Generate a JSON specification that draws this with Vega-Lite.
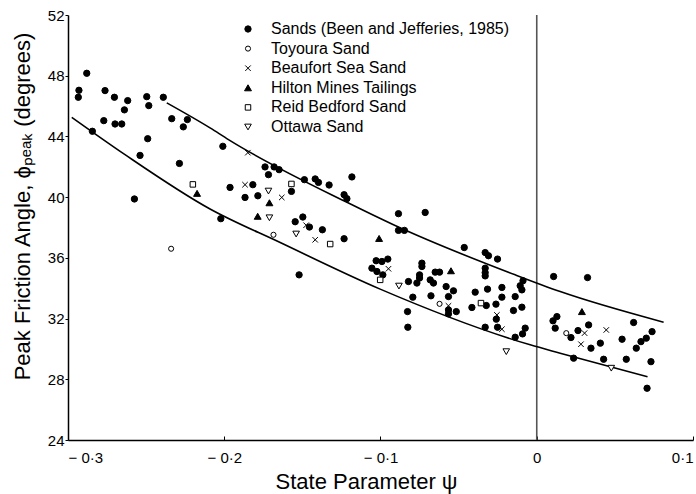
{
  "$schema": "https://vega.github.io/schema/vega-lite/v6.json",
  "width": 625,
  "height": 425,
  "autosize": {"type": "none"},
  "padding": {"left": 68, "top": 15, "right": 3, "bottom": 54},
  "background": "white",
  "config": {
    "font": "Liberation Sans",
    "view": {"stroke": null},
    "axis": {
      "grid": false,
      "domainColor": "black",
      "domainWidth": 1.5,
      "tickColor": "black",
      "labelColor": "black",
      "titleColor": "black",
      "labelFontSize": 15,
      "titleFontSize": 22,
      "titleFontWeight": "normal"
    },
    "legend": {
      "orient": "none",
      "legendX": 172,
      "legendY": 6,
      "padding": 0,
      "labelFontSize": 16,
      "labelColor": "black",
      "labelLimit": 400,
      "labelOffset": 15,
      "rowPadding": 3.6,
      "symbolStrokeWidth": 1
    }
  },
  "datasets": {
    "points": [
      {"psi": -0.2934, "phi": 46.58, "set": "Sands (Been and Jefferies, 1985)"},
      {"psi": -0.2930, "phi": 47.04, "set": "Sands (Been and Jefferies, 1985)"},
      {"psi": -0.2880, "phi": 48.16, "set": "Sands (Been and Jefferies, 1985)"},
      {"psi": -0.2844, "phi": 44.34, "set": "Sands (Been and Jefferies, 1985)"},
      {"psi": -0.2771, "phi": 45.04, "set": "Sands (Been and Jefferies, 1985)"},
      {"psi": -0.2763, "phi": 47.02, "set": "Sands (Been and Jefferies, 1985)"},
      {"psi": -0.2703, "phi": 46.58, "set": "Sands (Been and Jefferies, 1985)"},
      {"psi": -0.2699, "phi": 44.82, "set": "Sands (Been and Jefferies, 1985)"},
      {"psi": -0.2656, "phi": 44.82, "set": "Sands (Been and Jefferies, 1985)"},
      {"psi": -0.2639, "phi": 45.75, "set": "Sands (Been and Jefferies, 1985)"},
      {"psi": -0.2618, "phi": 46.36, "set": "Sands (Been and Jefferies, 1985)"},
      {"psi": -0.2539, "phi": 42.75, "set": "Sands (Been and Jefferies, 1985)"},
      {"psi": -0.2496, "phi": 46.62, "set": "Sands (Been and Jefferies, 1985)"},
      {"psi": -0.2483, "phi": 46.03, "set": "Sands (Been and Jefferies, 1985)"},
      {"psi": -0.2490, "phi": 43.85, "set": "Sands (Been and Jefferies, 1985)"},
      {"psi": -0.2390, "phi": 46.58, "set": "Sands (Been and Jefferies, 1985)"},
      {"psi": -0.2336, "phi": 45.17, "set": "Sands (Been and Jefferies, 1985)"},
      {"psi": -0.2262, "phi": 44.63, "set": "Sands (Been and Jefferies, 1985)"},
      {"psi": -0.2236, "phi": 45.11, "set": "Sands (Been and Jefferies, 1985)"},
      {"psi": -0.2287, "phi": 42.22, "set": "Sands (Been and Jefferies, 1985)"},
      {"psi": -0.2575, "phi": 39.88, "set": "Sands (Been and Jefferies, 1985)"},
      {"psi": -0.2009, "phi": 43.35, "set": "Sands (Been and Jefferies, 1985)"},
      {"psi": -0.1739, "phi": 41.99, "set": "Sands (Been and Jefferies, 1985)"},
      {"psi": -0.1681, "phi": 41.99, "set": "Sands (Been and Jefferies, 1985)"},
      {"psi": -0.1649, "phi": 41.81, "set": "Sands (Been and Jefferies, 1985)"},
      {"psi": -0.1717, "phi": 41.48, "set": "Sands (Been and Jefferies, 1985)"},
      {"psi": -0.1963, "phi": 40.64, "set": "Sands (Been and Jefferies, 1985)"},
      {"psi": -0.1817, "phi": 40.82, "set": "Sands (Been and Jefferies, 1985)"},
      {"psi": -0.1867, "phi": 39.98, "set": "Sands (Been and Jefferies, 1985)"},
      {"psi": -0.1785, "phi": 40.09, "set": "Sands (Been and Jefferies, 1985)"},
      {"psi": -0.1570, "phi": 40.38, "set": "Sands (Been and Jefferies, 1985)"},
      {"psi": -0.1487, "phi": 41.15, "set": "Sands (Been and Jefferies, 1985)"},
      {"psi": -0.1418, "phi": 41.20, "set": "Sands (Been and Jefferies, 1985)"},
      {"psi": -0.1397, "phi": 40.97, "set": "Sands (Been and Jefferies, 1985)"},
      {"psi": -0.1329, "phi": 40.80, "set": "Sands (Been and Jefferies, 1985)"},
      {"psi": -0.1183, "phi": 41.33, "set": "Sands (Been and Jefferies, 1985)"},
      {"psi": -0.1233, "phi": 40.16, "set": "Sands (Been and Jefferies, 1985)"},
      {"psi": -0.1215, "phi": 39.90, "set": "Sands (Been and Jefferies, 1985)"},
      {"psi": -0.2022, "phi": 38.58, "set": "Sands (Been and Jefferies, 1985)"},
      {"psi": -0.1546, "phi": 38.38, "set": "Sands (Been and Jefferies, 1985)"},
      {"psi": -0.1497, "phi": 38.69, "set": "Sands (Been and Jefferies, 1985)"},
      {"psi": -0.1455, "phi": 38.03, "set": "Sands (Been and Jefferies, 1985)"},
      {"psi": -0.1372, "phi": 37.85, "set": "Sands (Been and Jefferies, 1985)"},
      {"psi": -0.1233, "phi": 37.26, "set": "Sands (Been and Jefferies, 1985)"},
      {"psi": -0.0885, "phi": 38.91, "set": "Sands (Been and Jefferies, 1985)"},
      {"psi": -0.0714, "phi": 38.99, "set": "Sands (Been and Jefferies, 1985)"},
      {"psi": -0.0885, "phi": 37.81, "set": "Sands (Been and Jefferies, 1985)"},
      {"psi": -0.0847, "phi": 37.81, "set": "Sands (Been and Jefferies, 1985)"},
      {"psi": -0.1028, "phi": 35.81, "set": "Sands (Been and Jefferies, 1985)"},
      {"psi": -0.0991, "phi": 35.76, "set": "Sands (Been and Jefferies, 1985)"},
      {"psi": -0.0953, "phi": 35.92, "set": "Sands (Been and Jefferies, 1985)"},
      {"psi": -0.1055, "phi": 35.32, "set": "Sands (Been and Jefferies, 1985)"},
      {"psi": -0.1023, "phi": 35.10, "set": "Sands (Been and Jefferies, 1985)"},
      {"psi": -0.0985, "phi": 34.88, "set": "Sands (Been and Jefferies, 1985)"},
      {"psi": -0.1521, "phi": 34.88, "set": "Sands (Been and Jefferies, 1985)"},
      {"psi": -0.0464, "phi": 36.68, "set": "Sands (Been and Jefferies, 1985)"},
      {"psi": -0.0330, "phi": 36.35, "set": "Sands (Been and Jefferies, 1985)"},
      {"psi": -0.0309, "phi": 36.14, "set": "Sands (Been and Jefferies, 1985)"},
      {"psi": -0.0251, "phi": 35.92, "set": "Sands (Been and Jefferies, 1985)"},
      {"psi": -0.0735, "phi": 35.65, "set": "Sands (Been and Jefferies, 1985)"},
      {"psi": -0.0735, "phi": 35.43, "set": "Sands (Been and Jefferies, 1985)"},
      {"psi": -0.0750, "phi": 34.88, "set": "Sands (Been and Jefferies, 1985)"},
      {"psi": -0.0750, "phi": 34.67, "set": "Sands (Been and Jefferies, 1985)"},
      {"psi": -0.0767, "phi": 34.34, "set": "Sands (Been and Jefferies, 1985)"},
      {"psi": -0.0821, "phi": 34.44, "set": "Sands (Been and Jefferies, 1985)"},
      {"psi": -0.0650, "phi": 35.06, "set": "Sands (Been and Jefferies, 1985)"},
      {"psi": -0.0622, "phi": 35.06, "set": "Sands (Been and Jefferies, 1985)"},
      {"psi": -0.0682, "phi": 34.55, "set": "Sands (Been and Jefferies, 1985)"},
      {"psi": -0.0661, "phi": 34.34, "set": "Sands (Been and Jefferies, 1985)"},
      {"psi": -0.0580, "phi": 34.11, "set": "Sands (Been and Jefferies, 1985)"},
      {"psi": -0.0533, "phi": 33.83, "set": "Sands (Been and Jefferies, 1985)"},
      {"psi": -0.0565, "phi": 33.45, "set": "Sands (Been and Jefferies, 1985)"},
      {"psi": -0.0793, "phi": 33.41, "set": "Sands (Been and Jefferies, 1985)"},
      {"psi": -0.0677, "phi": 33.50, "set": "Sands (Been and Jefferies, 1985)"},
      {"psi": -0.0565, "phi": 32.57, "set": "Sands (Been and Jefferies, 1985)"},
      {"psi": -0.0565, "phi": 32.31, "set": "Sands (Been and Jefferies, 1985)"},
      {"psi": -0.0515, "phi": 32.46, "set": "Sands (Been and Jefferies, 1985)"},
      {"psi": -0.0827, "phi": 32.46, "set": "Sands (Been and Jefferies, 1985)"},
      {"psi": -0.0825, "phi": 31.43, "set": "Sands (Been and Jefferies, 1985)"},
      {"psi": -0.0330, "phi": 35.32, "set": "Sands (Been and Jefferies, 1985)"},
      {"psi": -0.0330, "phi": 35.03, "set": "Sands (Been and Jefferies, 1985)"},
      {"psi": -0.0330, "phi": 34.81, "set": "Sands (Been and Jefferies, 1985)"},
      {"psi": -0.0394, "phi": 33.74, "set": "Sands (Been and Jefferies, 1985)"},
      {"psi": -0.0315, "phi": 33.94, "set": "Sands (Been and Jefferies, 1985)"},
      {"psi": -0.0223, "phi": 34.05, "set": "Sands (Been and Jefferies, 1985)"},
      {"psi": -0.0223, "phi": 33.41, "set": "Sands (Been and Jefferies, 1985)"},
      {"psi": -0.0138, "phi": 33.45, "set": "Sands (Been and Jefferies, 1985)"},
      {"psi": -0.0106, "phi": 34.16, "set": "Sands (Been and Jefferies, 1985)"},
      {"psi": -0.0088, "phi": 34.49, "set": "Sands (Been and Jefferies, 1985)"},
      {"psi": -0.0095, "phi": 33.89, "set": "Sands (Been and Jefferies, 1985)"},
      {"psi": -0.0415, "phi": 32.73, "set": "Sands (Been and Jefferies, 1985)"},
      {"psi": -0.0323, "phi": 32.86, "set": "Sands (Been and Jefferies, 1985)"},
      {"psi": -0.0261, "phi": 32.95, "set": "Sands (Been and Jefferies, 1985)"},
      {"psi": -0.0259, "phi": 31.96, "set": "Sands (Been and Jefferies, 1985)"},
      {"psi": -0.0149, "phi": 32.53, "set": "Sands (Been and Jefferies, 1985)"},
      {"psi": -0.0095, "phi": 32.75, "set": "Sands (Been and Jefferies, 1985)"},
      {"psi": -0.0330, "phi": 31.43, "set": "Sands (Been and Jefferies, 1985)"},
      {"psi": -0.0251, "phi": 31.43, "set": "Sands (Been and Jefferies, 1985)"},
      {"psi": -0.0138, "phi": 30.77, "set": "Sands (Been and Jefferies, 1985)"},
      {"psi": -0.0091, "phi": 30.99, "set": "Sands (Been and Jefferies, 1985)"},
      {"psi": -0.0074, "phi": 31.37, "set": "Sands (Been and Jefferies, 1985)"},
      {"psi": 0.0108, "phi": 34.77, "set": "Sands (Been and Jefferies, 1985)"},
      {"psi": 0.0325, "phi": 34.70, "set": "Sands (Been and Jefferies, 1985)"},
      {"psi": 0.0104, "phi": 31.85, "set": "Sands (Been and Jefferies, 1985)"},
      {"psi": 0.0129, "phi": 32.13, "set": "Sands (Been and Jefferies, 1985)"},
      {"psi": 0.0118, "phi": 31.37, "set": "Sands (Been and Jefferies, 1985)"},
      {"psi": 0.0219, "phi": 30.75, "set": "Sands (Been and Jefferies, 1985)"},
      {"psi": 0.0264, "phi": 31.21, "set": "Sands (Been and Jefferies, 1985)"},
      {"psi": 0.0332, "phi": 31.58, "set": "Sands (Been and Jefferies, 1985)"},
      {"psi": 0.0347, "phi": 30.05, "set": "Sands (Been and Jefferies, 1985)"},
      {"psi": 0.0407, "phi": 30.38, "set": "Sands (Been and Jefferies, 1985)"},
      {"psi": 0.0546, "phi": 30.64, "set": "Sands (Been and Jefferies, 1985)"},
      {"psi": 0.0620, "phi": 31.74, "set": "Sands (Been and Jefferies, 1985)"},
      {"psi": 0.0637, "phi": 30.05, "set": "Sands (Been and Jefferies, 1985)"},
      {"psi": 0.0667, "phi": 30.48, "set": "Sands (Been and Jefferies, 1985)"},
      {"psi": 0.0701, "phi": 30.71, "set": "Sands (Been and Jefferies, 1985)"},
      {"psi": 0.0738, "phi": 31.14, "set": "Sands (Been and Jefferies, 1985)"},
      {"psi": 0.0236, "phi": 29.39, "set": "Sands (Been and Jefferies, 1985)"},
      {"psi": 0.0428, "phi": 29.32, "set": "Sands (Been and Jefferies, 1985)"},
      {"psi": 0.0573, "phi": 29.32, "set": "Sands (Been and Jefferies, 1985)"},
      {"psi": 0.0731, "phi": 29.16, "set": "Sands (Been and Jefferies, 1985)"},
      {"psi": 0.0706, "phi": 27.41, "set": "Sands (Been and Jefferies, 1985)"},
      {"psi": -0.2340, "phi": 36.60, "set": "Toyoura Sand"},
      {"psi": -0.1685, "phi": 37.52, "set": "Toyoura Sand"},
      {"psi": -0.0622, "phi": 32.97, "set": "Toyoura Sand"},
      {"psi": 0.0189, "phi": 31.04, "set": "Toyoura Sand"},
      {"psi": -0.1849, "phi": 42.93, "set": "Beaufort Sea Sand"},
      {"psi": -0.1867, "phi": 40.82, "set": "Beaufort Sea Sand"},
      {"psi": -0.1632, "phi": 39.98, "set": "Beaufort Sea Sand"},
      {"psi": -0.1476, "phi": 38.15, "set": "Beaufort Sea Sand"},
      {"psi": -0.1418, "phi": 37.19, "set": "Beaufort Sea Sand"},
      {"psi": -0.0949, "phi": 35.28, "set": "Beaufort Sea Sand"},
      {"psi": -0.0565, "phi": 32.84, "set": "Beaufort Sea Sand"},
      {"psi": -0.0255, "phi": 32.24, "set": "Beaufort Sea Sand"},
      {"psi": -0.0223, "phi": 31.30, "set": "Beaufort Sea Sand"},
      {"psi": 0.0306, "phi": 31.04, "set": "Beaufort Sea Sand"},
      {"psi": 0.0445, "phi": 31.25, "set": "Beaufort Sea Sand"},
      {"psi": 0.0283, "phi": 30.31, "set": "Beaufort Sea Sand"},
      {"psi": -0.2174, "phi": 40.25, "set": "Hilton Mines Tailings"},
      {"psi": -0.1711, "phi": 39.63, "set": "Hilton Mines Tailings"},
      {"psi": -0.1786, "phi": 38.74, "set": "Hilton Mines Tailings"},
      {"psi": -0.1009, "phi": 37.28, "set": "Hilton Mines Tailings"},
      {"psi": -0.0549, "phi": 35.15, "set": "Hilton Mines Tailings"},
      {"psi": 0.0289, "phi": 32.46, "set": "Hilton Mines Tailings"},
      {"psi": -0.2201, "phi": 40.84, "set": "Reid Bedford Sand"},
      {"psi": -0.1570, "phi": 40.87, "set": "Reid Bedford Sand"},
      {"psi": -0.1322, "phi": 36.91, "set": "Reid Bedford Sand"},
      {"psi": -0.1002, "phi": 34.55, "set": "Reid Bedford Sand"},
      {"psi": -0.0357, "phi": 33.02, "set": "Reid Bedford Sand"},
      {"psi": -0.1717, "phi": 40.40, "set": "Ottawa Sand"},
      {"psi": -0.1711, "phi": 38.64, "set": "Ottawa Sand"},
      {"psi": -0.1540, "phi": 37.57, "set": "Ottawa Sand"},
      {"psi": -0.0882, "phi": 34.14, "set": "Ottawa Sand"},
      {"psi": -0.0195, "phi": 29.82, "set": "Ottawa Sand"},
      {"psi": 0.0477, "phi": 28.73, "set": "Ottawa Sand"}
    ],
    "curves": [
      {"psi": -0.2368, "phi": 46.21, "curve": "upper"},
      {"psi": -0.2091, "phi": 44.56, "curve": "upper"},
      {"psi": -0.1973, "phi": 43.79, "curve": "upper"},
      {"psi": -0.1205, "phi": 39.61, "curve": "upper"},
      {"psi": -0.0917, "phi": 38.18, "curve": "upper"},
      {"psi": -0.0138, "phi": 34.88, "curve": "upper"},
      {"psi": 0.0150, "phi": 33.78, "curve": "upper"},
      {"psi": 0.0812, "phi": 31.76, "curve": "upper"},
      {"psi": -0.2976, "phi": 45.26, "curve": "lower"},
      {"psi": -0.2635, "phi": 42.80, "curve": "lower"},
      {"psi": -0.2091, "phi": 39.22, "curve": "lower"},
      {"psi": -0.1642, "phi": 37.01, "curve": "lower"},
      {"psi": -0.1002, "phi": 33.94, "curve": "lower"},
      {"psi": -0.0042, "phi": 30.27, "curve": "lower"},
      {"psi": 0.0150, "phi": 29.72, "curve": "lower"},
      {"psi": 0.0709, "phi": 28.17, "curve": "lower"}
    ],
    "divider": [
      {"psi": 0}
    ]
  },
  "layer": [
    {
      "data": {"name": "divider"},
      "mark": {"type": "rule", "color": "#555555", "strokeWidth": 1.6},
      "encoding": {"x": {"field": "psi", "type": "quantitative"}}
    },
    {
      "data": {"name": "curves"},
      "mark": {"type": "line", "color": "black", "strokeWidth": 1.6, "interpolate": "monotone"},
      "encoding": {
        "x": {"field": "psi", "type": "quantitative"},
        "y": {"field": "phi", "type": "quantitative"},
        "detail": {"field": "curve", "type": "nominal"}
      }
    },
    {
      "data": {"name": "points"},
      "mark": {"type": "point", "filled": true, "strokeWidth": 1, "opacity": 1},
      "encoding": {
        "x": {
          "field": "psi",
          "type": "quantitative",
          "scale": {"domain": [-0.3, 0.1], "nice": false, "zero": false},
          "axis": {
            "values": [-0.3, -0.2, -0.1, 0, 0.1],
            "labelExpr": "datum.value < -0.001 ? '\u2212 ' + replace(format(-datum.value, '.1f'), '.', '\u00b7') : (datum.value > 0.001 ? replace(format(datum.value, '.1f'), '.', '\u00b7') : '0')",
            "tickSize": -4,
            "labelPadding": 14,
            "title": "State Parameter  \u03c8",
            "titleX": 298,
            "titleY": 48,
            "titleAlign": "center",
            "titleBaseline": "alphabetic"
          }
        },
        "y": {
          "field": "phi",
          "type": "quantitative",
          "scale": {"domain": [24, 52], "nice": false, "zero": false},
          "axis": {
            "values": [24, 28, 32, 36, 40, 44, 48, 52],
            "tickSize": 3,
            "labelPadding": 1,
            "title": "Peak Friction Angle, \u03d5\u209a\u2091\u2090\u2096 (degrees)",
            "titleX": -46,
            "titleY": 191,
            "titleAlign": "center",
            "titleBaseline": "middle"
          }
        },
        "shape": {
          "field": "set",
          "type": "nominal",
          "title": null,
          "scale": {
            "domain": ["Sands (Been and Jefferies, 1985)", "Toyoura Sand", "Beaufort Sea Sand", "Hilton Mines Tailings", "Reid Bedford Sand", "Ottawa Sand"],
            "range": ["circle", "circle", "M-1,-1L1,1M-1,1L1,-1", "triangle-up", "square", "triangle-down"]
          }
        },
        "fill": {
          "field": "set",
          "type": "nominal",
          "title": null,
          "scale": {
            "domain": ["Sands (Been and Jefferies, 1985)", "Toyoura Sand", "Beaufort Sea Sand", "Hilton Mines Tailings", "Reid Bedford Sand", "Ottawa Sand"],
            "range": ["black", "white", "black", "black", "white", "white"]
          }
        },
        "stroke": {
          "field": "set",
          "type": "nominal",
          "title": null,
          "scale": {
            "domain": ["Sands (Been and Jefferies, 1985)", "Toyoura Sand", "Beaufort Sea Sand", "Hilton Mines Tailings", "Reid Bedford Sand", "Ottawa Sand"],
            "range": ["black", "black", "black", "black", "black", "black"]
          }
        },
        "size": {
          "field": "set",
          "type": "nominal",
          "title": null,
          "scale": {
            "type": "ordinal",
            "domain": ["Sands (Been and Jefferies, 1985)", "Toyoura Sand", "Beaufort Sea Sand", "Hilton Mines Tailings", "Reid Bedford Sand", "Ottawa Sand"],
            "range": [40, 26, 30, 48, 30, 44]
          }
        }
      }
    }
  ]
}
